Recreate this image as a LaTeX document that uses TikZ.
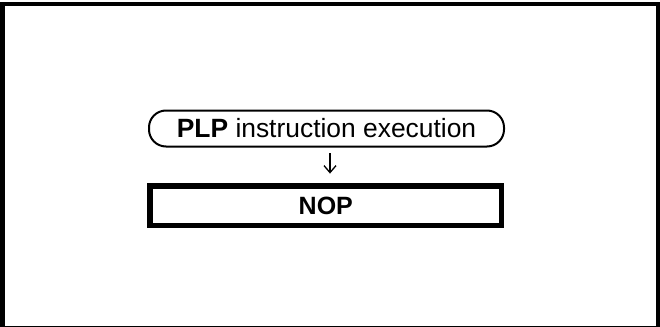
\documentclass[tikz,border=0pt]{standalone}
\usepackage{fontspec}
\setmainfont{Liberation Sans}
\usetikzlibrary{arrows.meta}
\begin{document}
\begin{tikzpicture}[x=1pt,y=-1pt,
  frame/.style={draw=black,line width=4.5pt},
  startbox/.style={draw=black,line width=2pt,rounded corners=17pt,minimum width=355pt,minimum height=36pt,inner sep=0pt,font=\fontsize{26.4}{30}\selectfont},
  procbox/.style={draw=black,line width=5.5pt,minimum width=351.5pt,minimum height=39.5pt,inner sep=0pt,font=\fontsize{25}{28}\selectfont\bfseries},
  conn/.style={draw=black,line width=1.3pt,-{Straight Barb[length=7pt,width=12pt]},shorten <=5.5pt,shorten >=9.5pt}]
\useasboundingbox (0,0) rectangle (660,326);
\draw[frame] (2.25,4) rectangle (658,328);
\node[startbox] (s) at (326.5,128.5) {\textbf{PLP} instruction execution};
\node[procbox] (n) at (325.8,205.6) {NOP};
\coordinate (ax) at (330,0);
\draw[conn] (s.south -| ax) -- (n.north -| ax);
\end{tikzpicture}
\end{document}
